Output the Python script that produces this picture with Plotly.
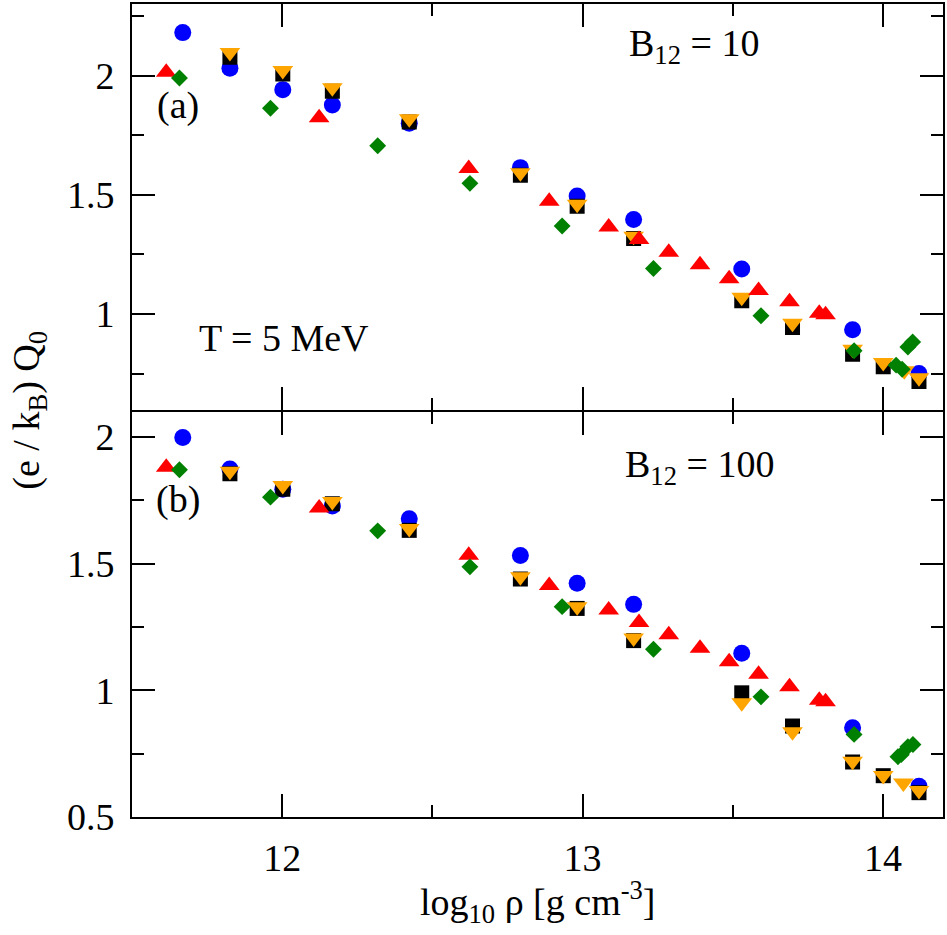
import plotly.graph_objects as go

# ---------------- data: panel (a) B12 = 10 ----------------
a_blue_x = [11.669, 11.826, 12.002, 12.167, 12.423, 12.793, 12.982, 13.170, 13.530, 13.899, 14.120]
a_blue_y = [2.180, 2.031, 1.941, 1.877, 1.800, 1.614, 1.495, 1.397, 1.189, 0.934, 0.751]

a_black_x = [11.826, 12.002, 12.167, 12.423, 12.793, 12.982, 13.170, 13.530, 13.699, 13.899, 14.001, 14.120]
a_black_y = [2.077, 2.007, 1.934, 1.805, 1.582, 1.452, 1.317, 1.056, 0.944, 0.832, 0.779, 0.717]

a_orange_x = [11.826, 12.002, 12.167, 12.423, 12.793, 12.982, 13.170, 13.530, 13.699, 13.899, 14.001, 14.071, 14.120]
a_orange_y = [2.097, 2.021, 1.949, 1.819, 1.593, 1.460, 1.326, 1.071, 0.962, 0.853, 0.797, 0.762, 0.733]

a_red_x = [11.614, 12.123, 12.621, 12.889, 13.087, 13.188, 13.287, 13.391, 13.488, 13.586, 13.689, 13.788, 13.809]
a_red_y = [2.014, 1.823, 1.610, 1.473, 1.365, 1.313, 1.259, 1.207, 1.148, 1.099, 1.052, 1.003, 0.997]

a_green_x = [11.658, 11.961, 12.318, 12.625, 12.932, 13.236, 13.594, 13.904, 14.044, 14.064, 14.083, 14.099]
a_green_y = [1.990, 1.863, 1.706, 1.548, 1.369, 1.191, 0.993, 0.846, 0.786, 0.769, 0.862, 0.883]

# ---------------- data: panel (b) B12 = 100 ----------------
b_blue_x = [11.669, 11.826, 12.002, 12.167, 12.423, 12.793, 12.982, 13.170, 13.530, 13.899, 14.120]
b_blue_y = [1.997, 1.873, 1.793, 1.727, 1.677, 1.532, 1.422, 1.339, 1.146, 0.852, 0.621]

b_black_x = [11.826, 12.002, 12.167, 12.423, 12.793, 12.982, 13.170, 13.530, 13.699, 13.899, 14.001, 14.120]
b_black_y = [1.854, 1.793, 1.736, 1.631, 1.439, 1.323, 1.196, 0.990, 0.859, 0.717, 0.663, 0.596]

b_orange_x = [11.826, 12.002, 12.167, 12.423, 12.793, 12.982, 13.170, 13.530, 13.699, 13.899, 14.001, 14.068, 14.120]
b_orange_y = [1.864, 1.808, 1.745, 1.638, 1.448, 1.330, 1.206, 0.951, 0.836, 0.720, 0.664, 0.634, 0.605]

b_red_x = [11.614, 12.123, 12.621, 12.889, 13.087, 13.188, 13.287, 13.391, 13.488, 13.586, 13.689, 13.788, 13.809]
b_red_y = [1.880, 1.719, 1.533, 1.413, 1.317, 1.267, 1.219, 1.166, 1.113, 1.063, 1.014, 0.961, 0.955]

b_green_x = [11.658, 11.961, 12.318, 12.625, 12.932, 13.236, 13.594, 13.904, 14.050, 14.061, 14.083, 14.100]
b_green_y = [1.870, 1.762, 1.629, 1.487, 1.330, 1.162, 0.974, 0.826, 0.738, 0.746, 0.777, 0.786]

x_ticks = [12, 13, 14]
x_tick_labels = ["12", "13", "14"]
ya_ticks = [1, 1.5, 2]
ya_tick_labels = ["1", "1.5", "2"]
yb_ticks = [0.5, 1, 1.5, 2]
yb_tick_labels = ["0.5", "1", "1.5", "2"]

FONT = "Liberation Serif"
FS = 38

fig = go.Figure()

styles = [
    ("blue", "circle", 17, "#0000ff"),
    ("black", "square", 15, "#000000"),
    ("orange", "triangle-down", 18, "#ffa500"),
    ("red", "triangle-up", 18, "#ff0000"),
    ("green", "diamond", 13, "#008000"),
]
panels = {
    "a": {"blue": (a_blue_x, a_blue_y), "black": (a_black_x, a_black_y),
          "orange": (a_orange_x, a_orange_y), "red": (a_red_x, a_red_y),
          "green": (a_green_x, a_green_y)},
    "b": {"blue": (b_blue_x, b_blue_y), "black": (b_black_x, b_black_y),
          "orange": (b_orange_x, b_orange_y), "red": (b_red_x, b_red_y),
          "green": (b_green_x, b_green_y)},
}
axmap = {"a": ("x", "y"), "b": ("x2", "y2")}
for p, series in panels.items():
    xa, ya = axmap[p]
    for name, sym, size, col in styles:
        xs, ys = series[name]
        fig.add_trace(go.Scatter(
            x=xs, y=ys, mode="markers", xaxis=xa, yaxis=ya, showlegend=False,
            marker=dict(symbol=sym, size=size, color=col, line=dict(width=0)),
        ))

common_axis = dict(
    showline=True, linecolor="black", linewidth=2, mirror="allticks",
    ticks="inside", ticklen=23, tickwidth=2, tickcolor="black",
    showgrid=False, zeroline=False, automargin=False,
    tickfont=dict(family=FONT, size=FS, color="black"),
)

PLOT_H = 935 - 4 - 118
gap = 1.0 / PLOT_H

fig.update_layout(
    width=947, height=935,
    margin=dict(l=132, r=4, t=4, b=118),
    plot_bgcolor="white", paper_bgcolor="white",
    font=dict(family=FONT, size=FS, color="black"),
    xaxis=dict(**common_axis, domain=[0, 1], range=[11.5, 14.2], anchor="y",
               tickvals=x_ticks, ticktext=x_tick_labels, showticklabels=False,
               minor=dict(tickvals=[11.5, 12.5, 13.5], ticklen=12, tickwidth=2, tickcolor="black", ticks="inside")),
    yaxis=dict(**common_axis, domain=[0.5 + gap, 1], range=[0.6, 2.3], anchor="x",
               tickvals=ya_ticks, ticktext=ya_tick_labels, ticklabelstandoff=8,
               minor=dict(tickvals=[0.75, 1.25, 1.75, 2.25], ticklen=12, tickwidth=2, tickcolor="black", ticks="inside")),
    xaxis2=dict(**common_axis, domain=[0, 1], range=[11.5, 14.2], anchor="y2",
                tickvals=x_ticks, ticktext=x_tick_labels, ticklabelstandoff=6,
                minor=dict(tickvals=[11.5, 12.5, 13.5], ticklen=12, tickwidth=2, tickcolor="black", ticks="inside")),
    yaxis2=dict(**common_axis, domain=[0, 0.5 - gap], range=[0.5, 2.1], anchor="x2",
                tickvals=yb_ticks, ticktext=yb_tick_labels, ticklabelstandoff=8,
                minor=dict(tickvals=[0.75, 1.25, 1.75], ticklen=12, tickwidth=2, tickcolor="black", ticks="inside")),
)

ann_font = dict(family=FONT, size=FS, color="black")
fig.add_annotation(x=13.37, y=2.125, xref="x", yref="y", text="B<sub>12</sub> = 10",
                   showarrow=False, font=ann_font, xanchor="center")
fig.add_annotation(x=11.652, y=1.874, xref="x", yref="y", text="(a)",
                   showarrow=False, font=ann_font, xanchor="center")
fig.add_annotation(x=12.007, y=0.90, xref="x", yref="y", text="T = 5 MeV",
                   showarrow=False, font=ann_font, xanchor="center")
fig.add_annotation(x=13.39, y=1.88, xref="x2", yref="y2", text="B<sub>12</sub> = 100",
                   showarrow=False, font=ann_font, xanchor="center")
fig.add_annotation(x=11.652, y=1.754, xref="x2", yref="y2", text="(b)",
                   showarrow=False, font=ann_font, xanchor="center")
fig.add_annotation(x=-0.128, y=0.5, xref="paper", yref="paper", xanchor="center", yanchor="middle",
                   text="(e / k<sub>B</sub>) Q<sub>0</sub>", textangle=-90,
                   showarrow=False, font=ann_font)
fig.add_annotation(x=0.5, y=-0.104, xref="paper", yref="paper", xanchor="center", yanchor="middle",
                   text="log<sub>10</sub> ρ [g cm<sup>-3</sup>]",
                   showarrow=False, font=ann_font)

fig.write_html("out.html", config={"displayModeBar": False},
               post_script="document.body.style.margin='0px';document.body.style.padding='0px';")
